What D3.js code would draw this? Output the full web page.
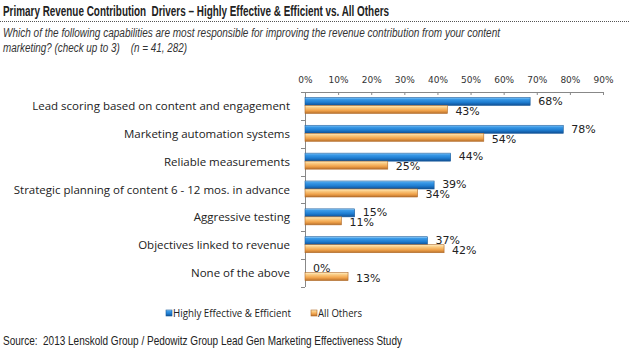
<!DOCTYPE html>
<html><head><meta charset="utf-8">
<script src="https://cdn.jsdelivr.net/npm/d3@7"></script>
<style>body{margin:0;background:#fff}svg{display:block}text{white-space:pre}</style>
</head><body><svg id="c" width="629" height="352"></svg>
<script>
const categories = ["Lead scoring based on content and engagement","Marketing automation systems","Reliable measurements","Strategic planning of content 6 - 12 mos. in advance","Aggressive testing","Objectives linked to revenue","None of the above"];
const highly = [68,78,44,39,15,37,0];
const others = [43,54,25,34,11,42,13];
const ticks = [0,10,20,30,40,50,60,70,80,90];
const seriesNames = ["Highly Effective & Efficient","All Others"];

(function(){
const svg = d3.select("#c");
const defs = svg.append("defs");
function grad(id, stops){
  const g = defs.append("linearGradient").attr("id",id).attr("x1",0).attr("y1",0).attr("x2",0).attr("y2",1);
  stops.forEach(s=>g.append("stop").attr("offset",s[0]).attr("stop-color",s[1]));
}
grad("gb",[[0,"#a8dcff"],[0.2,"#3c9be8"],[0.6,"#1f7ed2"],[1,"#0f4f93"]]);
grad("go",[[0,"#fff0c8"],[0.25,"#fbcd85"],[0.65,"#f0a24a"],[1,"#b8702c"]]);

const x = d3.scaleLinear().domain([0,90]).range([305,603]);
const y = d3.scaleBand().domain(categories).range([92,287]);
const bh = 8;

svg.append("text").attr("x",3).attr("y",16).attr("font-family","'Liberation Sans Narrow',Arial,sans-serif")
  .attr("font-weight","bold").attr("font-size",14).attr("fill","#222")
  .attr("textLength",386).attr("lengthAdjust","spacingAndGlyphs")
  .text("Primary Revenue Contribution  Drivers – Highly Effective & Efficient vs. All Others");
svg.append("line").attr("x1",0).attr("x2",629).attr("y1",21.5).attr("y2",21.5)
  .attr("stroke","#555").attr("stroke-dasharray","1,1");
const sub = ["Which of the following capabilities are most responsible for improving the revenue contribution from your content","marketing? (check up to 3)    (n = 41, 282)"];
const subW = [497,184];
sub.forEach((t,i)=>svg.append("text").attr("x",3).attr("y",37+i*15)
  .attr("font-family","'Liberation Sans Narrow',Arial,sans-serif").attr("font-style","italic")
  .attr("font-size",12.5).attr("fill","#333").attr("textLength",subW[i]).attr("lengthAdjust","spacingAndGlyphs").text(t));

const ax = svg.append("g").attr("transform","translate(0,92)")
  .call(d3.axisTop(x).tickValues(ticks).tickFormat(d=>d+"%").tickSize(-3).tickSizeOuter(0).tickPadding(9));
ax.select(".domain").attr("stroke","#888");
ax.selectAll(".tick line").attr("stroke","#888");
ax.selectAll("text").attr("font-family","Verdana,'DejaVu Sans',sans-serif").attr("font-size",9).attr("fill","#333");

svg.append("line").attr("x1",305.5).attr("x2",305.5).attr("y1",92).attr("y2",287).attr("stroke","#888");
const bounds = categories.map(c=>y(c)).concat([287]);
svg.append("g").selectAll("line").data(bounds).join("line")
  .attr("x1",301).attr("x2",305).attr("y1",d=>Math.round(d)+0.5).attr("y2",d=>Math.round(d)+0.5).attr("stroke","#888");

svg.append("g").selectAll("text").data(categories).join("text")
  .attr("x",290).attr("y",c=>y(c)+y.bandwidth()/2).attr("dy","0.35em").attr("text-anchor","end")
  .attr("font-family","'Open Sans','DejaVu Sans',sans-serif").attr("font-size",11.5).attr("fill","#222")
  .text(c=>c);

const data = categories.map((c,i)=>({c,h:highly[i],o:others[i]}));
const g = svg.append("g");
const barTop = c=>y(c)+y.bandwidth()/2-bh-0.5;
g.selectAll(".hb").data(data).join("rect").attr("class","hb")
  .attr("x",x(0)).attr("y",d=>barTop(d.c)).attr("width",d=>Math.max(0,x(d.h)-x(0))).attr("height",bh)
  .attr("fill","url(#gb)").attr("stroke","#1a5a9a").attr("stroke-width",0.6);
g.selectAll(".ob").data(data).join("rect").attr("class","ob")
  .attr("x",x(0)).attr("y",d=>barTop(d.c)+bh).attr("width",d=>x(d.o)-x(0)).attr("height",bh)
  .attr("fill","url(#go)").attr("stroke","#b06a28").attr("stroke-width",0.6);

const lf = "Verdana,'DejaVu Sans',sans-serif";
g.selectAll(".hl").data(data).join("text").attr("class","hl")
  .attr("x",d=>x(d.h)+8).attr("y",d=>barTop(d.c)+bh/2-0.5).attr("dy","0.35em")
  .attr("font-family",lf).attr("font-size",11).attr("fill","#222").text(d=>d.h+"%");
g.selectAll(".ol").data(data).join("text").attr("class","ol")
  .attr("x",d=>x(d.o)+8).attr("y",d=>barTop(d.c)+bh*1.5+1.5).attr("dy","0.35em")
  .attr("font-family",lf).attr("font-size",11).attr("fill","#222").text(d=>d.o+"%");

const lg = svg.append("g");
const lx = [166,311], lw=[118,44], lfill=["url(#gb)","url(#go)"], ls=["#1a5a9a","#b06a28"];
seriesNames.forEach((n,i)=>{
  lg.append("rect").attr("x",lx[i]).attr("y",310).attr("width",6).attr("height",6).attr("fill",lfill[i]).attr("stroke",ls[i]).attr("stroke-width",0.6);
  lg.append("text").attr("x",lx[i]+7).attr("y",313).attr("dy","0.35em")
    .attr("font-family","'Open Sans','DejaVu Sans',sans-serif").attr("font-size",11).attr("fill","#222")
    .attr("textLength",lw[i]).attr("lengthAdjust","spacingAndGlyphs").text(n);
});

svg.append("text").attr("x",3).attr("y",345).attr("font-family","'Liberation Sans Narrow',Arial,sans-serif")
  .attr("font-size",13).attr("fill","#222").attr("textLength",399).attr("lengthAdjust","spacingAndGlyphs")
  .text("Source:  2013 Lenskold Group / Pedowitz Group Lead Gen Marketing Effectiveness Study");
})();
</script></body></html>
